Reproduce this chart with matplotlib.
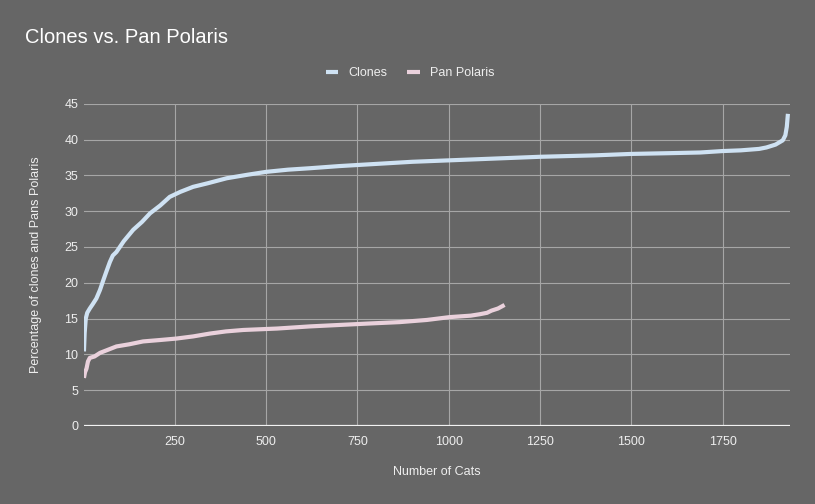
import matplotlib.pyplot as plt

# values
clones_x = [1, 3, 6, 10, 17, 25, 35, 45, 53, 62, 72, 80, 90, 110, 136, 160, 182,
            210, 236, 265, 300, 340, 392, 450, 501, 560, 620, 700, 800, 900, 1000,
            1100, 1250, 1400, 1500, 1600, 1689, 1750, 1800, 1850, 1870, 1895,
            1915, 1922, 1926, 1929]
clones_y = [10.4, 13.0, 15.0, 15.8, 16.4, 17.0, 17.8, 19.0, 20.2, 21.5, 22.9,
            23.8, 24.3, 25.8, 27.4, 28.5, 29.7, 30.8, 32.0, 32.7, 33.4, 33.9,
            34.6, 35.1, 35.5, 35.8, 36.0, 36.3, 36.6, 36.9, 37.1, 37.3, 37.6,
            37.8, 38.0, 38.1, 38.2, 38.4, 38.5, 38.7, 38.9, 39.3, 39.9, 40.6,
            41.8, 43.6]

pan_x = [1, 4, 8, 12, 17, 30, 45, 65, 90, 125, 163, 210, 254, 300, 346, 390,
         437, 530, 620, 700, 780, 866, 940, 1003, 1060, 1085, 1105, 1117, 1135,
         1153]
pan_y = [6.7, 7.5, 8.0, 9.0, 9.5, 9.7, 10.2, 10.6, 11.1, 11.4, 11.8, 12.0, 12.2,
         12.5, 12.9, 13.2, 13.4, 13.6, 13.9, 14.1, 14.3, 14.5, 14.8, 15.2, 15.4,
         15.6, 15.8, 16.1, 16.4, 16.9]

x_ticks = [250, 500, 750, 1000, 1250, 1500, 1750]
y_ticks = [0, 5, 10, 15, 20, 25, 30, 35, 40, 45]

bg = '#666666'
txt = '#eeeeee'
plt.rcParams['font.family'] = ['Liberation Sans', 'DejaVu Sans']

fig = plt.figure(figsize=(8.15, 5.04), dpi=100, facecolor=bg)
ax = fig.add_axes([0.103, 0.155, 0.866, 0.639], facecolor=bg)

ax.plot(clones_x, clones_y, color='#cfe2f3', lw=3, label='Clones',
        solid_capstyle='butt', zorder=3)
ax.plot(pan_x, pan_y, color='#ead1dc', lw=3, label='Pan Polaris',
        solid_capstyle='butt', zorder=3)

ax.set_xlim(1, 1934)
ax.set_ylim(0, 45)
ax.set_xticks(x_ticks)
ax.set_yticks(y_ticks)
ax.grid(True, color='#a6a6a6', lw=0.8)
ax.axhline(0, color='#f2f2f2', lw=1.6, zorder=2)
for s in ax.spines.values():
    s.set_visible(False)
ax.tick_params(length=0, colors=txt, labelsize=9)
ax.tick_params(axis='x', pad=7)
ax.tick_params(axis='y', pad=4)

ax.set_xlabel('Number of Cats', color=txt, fontsize=9, labelpad=13)
ax.set_ylabel('Percentage of clones and Pans Polaris', color=txt, fontsize=9,
              labelpad=16)

fig.text(0.031, 0.925, 'Clones vs. Pan Polaris', color='#ffffff', fontsize=14.5,
         va='center', ha='left')

leg = fig.legend(loc='center', bbox_to_anchor=(0.503, 0.855), ncol=2,
                 frameon=False, fontsize=9, handlelength=1.0, handletextpad=0.8,
                 columnspacing=1.6)
for t in leg.get_texts():
    t.set_color(txt)

fig.savefig('out.png', dpi=100, facecolor=bg)
